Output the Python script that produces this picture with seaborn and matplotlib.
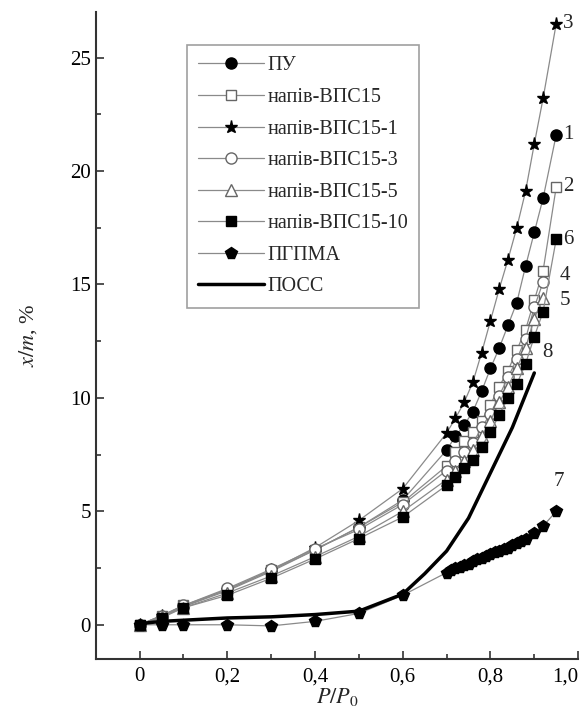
import matplotlib
matplotlib.use("Agg")
import matplotlib.pyplot as plt
import seaborn as sns
from matplotlib.ticker import FixedLocator

# Дані (P/P0 та x/m, %)
x_main = [0, 0.05, 0.1, 0.2, 0.3, 0.4, 0.5, 0.6, 0.7, 0.72, 0.74, 0.76, 0.78,
          0.8, 0.82, 0.84, 0.86, 0.88, 0.9, 0.92, 0.95]
y_pu = [0, 0.35, 0.8, 1.5, 2.35, 3.3, 4.3, 5.5, 7.7, 8.3, 8.8, 9.4, 10.3,
        11.3, 12.2, 13.2, 14.2, 15.8, 17.3, 18.8, 21.6]
y_vps15 = [0, 0.4, 0.85, 1.55, 2.4, 3.3, 4.3, 5.4, 7.0, 7.6, 8.1, 8.5, 9.0,
           9.7, 10.5, 11.2, 12.1, 13.0, 14.3, 15.6, 19.3]
y_vps15_1 = [0, 0.4, 0.8, 1.55, 2.4, 3.4, 4.6, 6.0, 8.45, 9.1, 9.8, 10.7, 12.0,
             13.4, 14.8, 16.1, 17.5, 19.1, 21.2, 23.2, 26.5]

x_short = [0, 0.05, 0.1, 0.2, 0.3, 0.4, 0.5, 0.6, 0.7, 0.72, 0.74, 0.76, 0.78,
           0.8, 0.82, 0.84, 0.86, 0.88, 0.9, 0.92]
y_vps15_3 = [0, 0.4, 0.85, 1.6, 2.45, 3.35, 4.2, 5.3, 6.8, 7.2, 7.6, 8.0, 8.7,
             9.3, 10.1, 10.9, 11.7, 12.6, 14.0, 15.1]
y_vps15_5 = [0, 0.35, 0.75, 1.4, 2.15, 3.0, 3.9, 5.0, 6.4, 6.8, 7.2, 7.7, 8.3,
             9.0, 9.8, 10.5, 11.3, 12.2, 13.5, 14.4]

x_vps15_10 = x_main
y_vps15_10 = [0, 0.3, 0.75, 1.3, 2.05, 2.9, 3.8, 4.75, 6.15, 6.5, 6.9, 7.25, 7.85,
              8.5, 9.25, 10.0, 10.6, 11.5, 12.7, 13.8, 17.0]

x_pgpma = [0, 0.05, 0.1, 0.2, 0.3, 0.4, 0.5, 0.6, 0.7, 0.71, 0.72, 0.73, 0.74,
           0.75, 0.76, 0.77, 0.78, 0.79, 0.8, 0.81, 0.82, 0.83, 0.84, 0.85,
           0.86, 0.87, 0.88, 0.9, 0.92, 0.95]
y_pgpma = [0, 0, 0, 0, -0.05, 0.15, 0.5, 1.3, 2.3, 2.4, 2.5, 2.55, 2.65,
           2.7, 2.8, 2.9, 2.95, 3.05, 3.1, 3.2, 3.25, 3.35, 3.4, 3.5,
           3.6, 3.7, 3.8, 4.05, 4.35, 5.0]

x_poss = [0, 0.05, 0.1, 0.2, 0.3, 0.4, 0.5, 0.6, 0.65, 0.7, 0.75, 0.8, 0.85, 0.9]
y_poss = [0.05, 0.15, 0.2, 0.3, 0.35, 0.45, 0.6, 1.35, 2.25, 3.25, 4.7, 6.7, 8.7, 11.1]

x_ticks = [0, 0.2, 0.4, 0.6, 0.8, 1.0]
x_ticklabels = ["0", "0,2", "0,4", "0,6", "0,8", "1,0"]
y_ticks = [0, 5, 10, 15, 20, 25]

sns.set_style("ticks")
plt.rcParams["font.family"] = ["Liberation Serif", "DejaVu Serif"]
plt.rcParams["mathtext.fontset"] = "stix"

fig = plt.figure(figsize=(5.84, 7.2), dpi=100)
ax = fig.add_axes([0.164, 0.085, 0.826, 0.898])

grey = "#8a8a8a"
series = [
    ("ПУ", x_main, y_pu, "o", "black", "black", 8),
    ("напів-ВПС15", x_main, y_vps15, "s", "white", "#666666", 7.5),
    ("напів-ВПС15-1", x_main, y_vps15_1, "*", "black", "black", 9.5),
    ("напів-ВПС15-3", x_short, y_vps15_3, "o", "white", "#666666", 8),
    ("напів-ВПС15-5", x_short, y_vps15_5, "^", "white", "#666666", 8),
    ("напів-ВПС15-10", x_vps15_10, y_vps15_10, "s", "black", "black", 7),
    ("ПГПМА", x_pgpma, y_pgpma, "p", "black", "black", 8.5),
]

for name, xs, ys, mk, fc, ec, ms in series:
    sns.lineplot(x=xs, y=ys, ax=ax, color=grey, linewidth=0.9, marker=mk,
                 markersize=ms, markerfacecolor=fc, markeredgecolor=ec,
                 markeredgewidth=1.0, label=name, sort=False)

sns.lineplot(x=x_poss, y=y_poss, ax=ax, color="black", linewidth=2.5,
             label="ПОСС", sort=False)

# Номери кривих
labels_num = [("3", 0.966, 26.5), ("1", 0.966, 21.6), ("2", 0.966, 19.3),
              ("6", 0.966, 17.0), ("4", 0.957, 15.4), ("5", 0.957, 14.3)]
for t, lx, ly in labels_num:
    ax.text(lx, ly, t, fontsize=15, ha="left", va="center")
ax.text(0.917, 12.0, "8", fontsize=15, ha="left", va="center")
ax.text(0.955, 5.9, "7", fontsize=15, ha="center", va="bottom")

ax.set_xlim(-0.1, 1.0)
ax.set_ylim(-1.5, 27)
ax.xaxis.set_major_locator(FixedLocator(x_ticks))
ax.set_xticklabels(x_ticklabels)
ax.get_xticklabels()[-1].set_horizontalalignment("right")
ax.xaxis.set_minor_locator(FixedLocator([0.1, 0.3, 0.5, 0.7, 0.9]))
ax.yaxis.set_major_locator(FixedLocator(y_ticks))
ax.yaxis.set_minor_locator(FixedLocator([2.5, 7.5, 12.5, 17.5, 22.5]))
ax.tick_params(which="both", direction="in", colors="#333333", labelcolor="black",
               labelsize=15, width=1.2)
ax.tick_params(which="major", length=6)
ax.tick_params(which="minor", length=3.5)
ax.tick_params(axis="x", pad=6)

sns.despine(ax=ax)
for s in ("left", "bottom"):
    ax.spines[s].set_linewidth(1.5)
    ax.spines[s].set_color("#333333")

ax.set_xlabel(r"$P/P_0$", fontsize=16, labelpad=0)
ax.set_ylabel(r"$x/m$, %", fontsize=16, labelpad=22)

leg = ax.legend(loc="upper left", bbox_to_anchor=(0.189, 0.949), fontsize=14.5,
                handlelength=3.3, handletextpad=0.15, labelspacing=0.62,
                frameon=True, fancybox=False, edgecolor="#888888",
                borderpad=0.55, borderaxespad=0)
leg.get_frame().set_linewidth(1.2)

fig.savefig("out.png", dpi=100)
